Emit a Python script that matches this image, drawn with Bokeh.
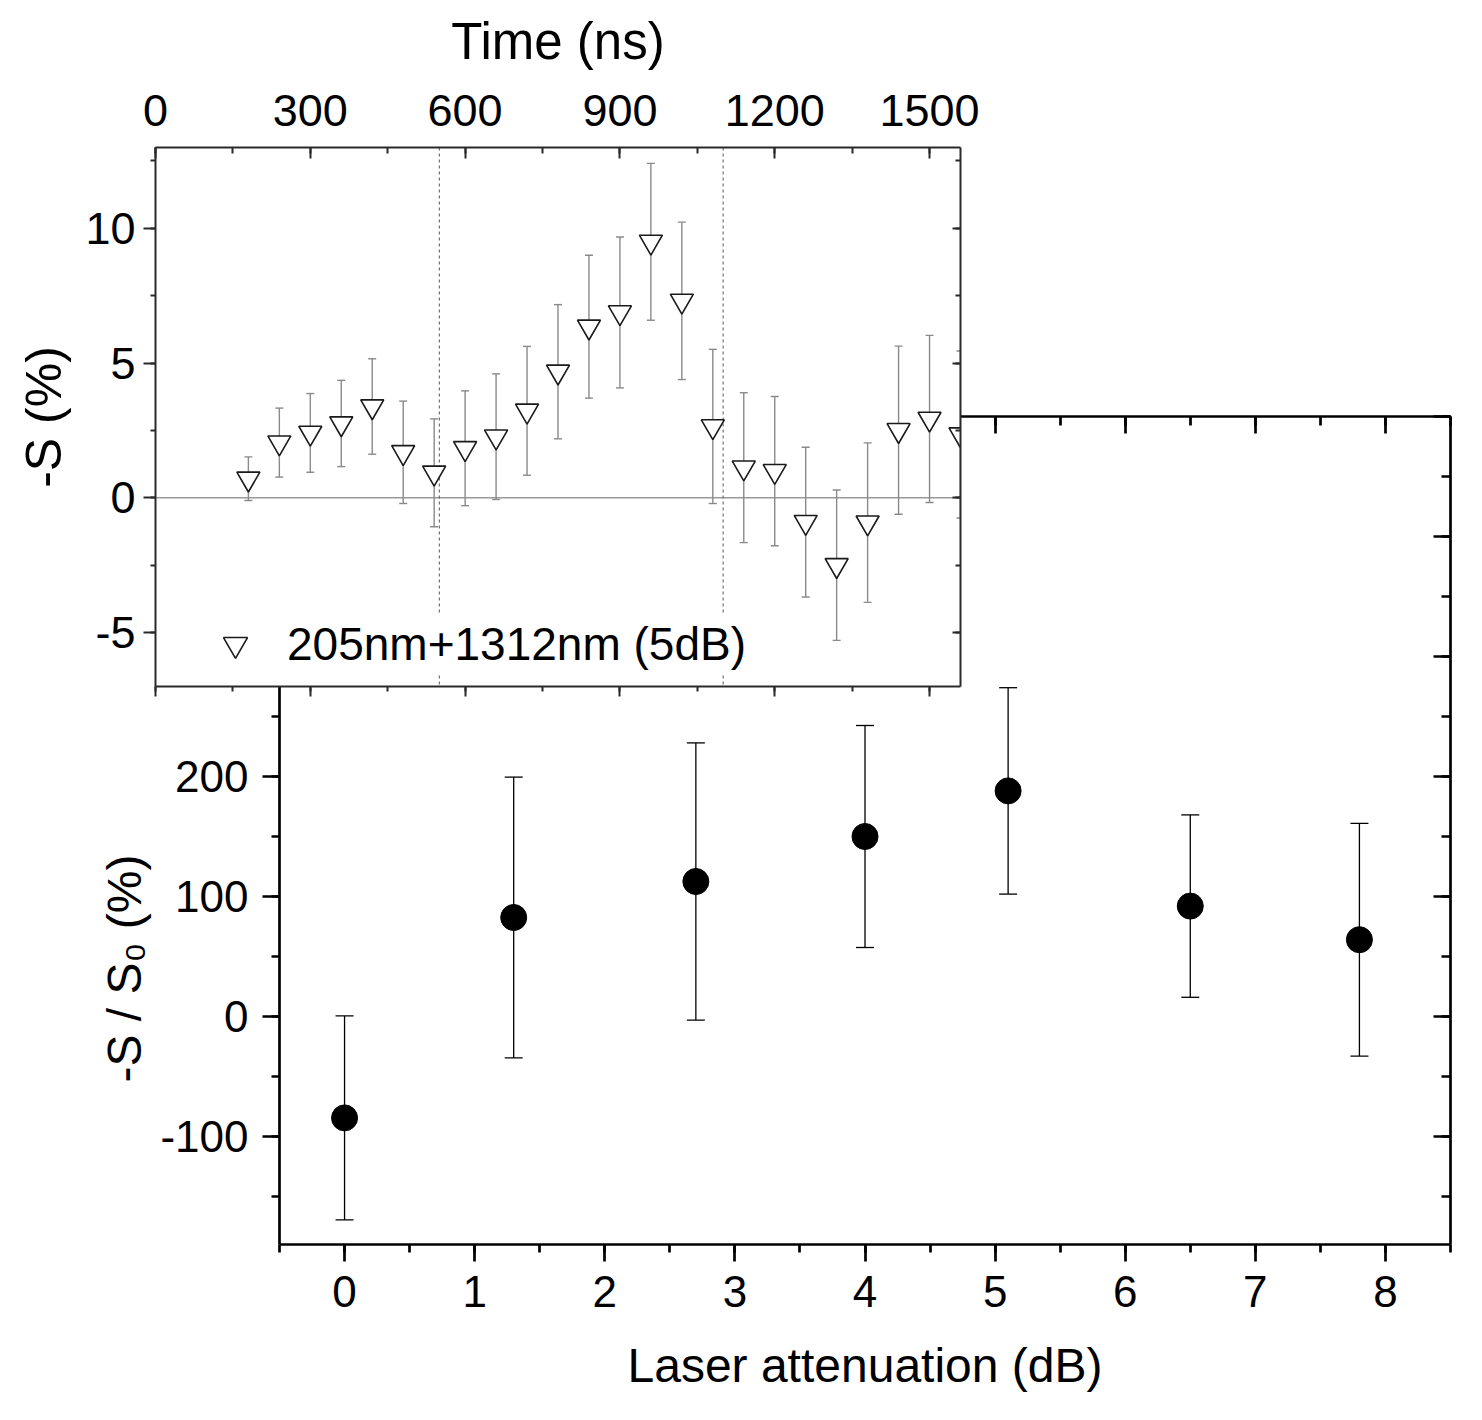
from bokeh.plotting import figure
from bokeh.models import (ColumnDataSource, Whisker, TeeHead, Span, Legend, Title,
                          LegendItem, LinearAxis, SingleIntervalTicker,
                          CustomJSTickFormatter, CustomLabelingPolicy)
from bokeh.embed import file_html
from bokeh.resources import INLINE

# ---------------- data ----------------
# main plot: signal ratio vs laser attenuation
atten_db = [0.0, 1.3, 2.7, 4.0, 5.1, 6.5, 7.8]
ratio_pct = [-84.5, 82.5, 112.5, 150.0, 188.0, 92.0, 64.0]
ratio_err = [85.0, 117.0, 115.5, 92.5, 86.0, 76.0, 97.0]

# inset: -S (%) vs time (ns), 205nm+1312nm (5dB)
time_ns = [180, 240, 300, 360, 420, 480, 540, 600, 660, 720, 780, 840,
           900, 960, 1020, 1080, 1140, 1200, 1260, 1320, 1380, 1440, 1500, 1560]
signal_pct = [0.71, 2.05, 2.41, 2.76, 3.39, 1.69, 0.93, 1.84, 2.27, 3.23, 4.68, 6.35,
              6.88, 9.50, 7.31, 2.65, 1.12, 0.99, -0.90, -2.50, -0.92, 2.51, 2.93, 2.35]
signal_err = [0.81, 1.28, 1.46, 1.60, 1.77, 1.90, 2.00, 2.13, 2.33, 2.39, 2.49, 2.65,
              2.80, 2.91, 2.92, 2.86, 2.78, 2.77, 2.78, 2.79, 2.96, 3.12, 3.10, 3.10]
window_ns = [550, 1100]
legend_label = "205nm+1312nm (5dB)"
main_ylabel = "-S / S\u2080 (%)"

FONT = "Liberation Sans"
HYPHEN_FMT = "return tick.toFixed(0)"


def no_labels():
    return CustomLabelingPolicy(code="return []")


def style_axis(ax, lw, color, major_len, minor_len, inward, font_size, show_labels=True):
    ax.axis_line_width = lw
    ax.axis_line_color = color
    ax.major_tick_line_width = lw
    ax.minor_tick_line_width = lw
    ax.major_tick_line_color = color
    ax.minor_tick_line_color = color
    if inward:
        ax.major_tick_in = major_len
        ax.major_tick_out = 0
        ax.minor_tick_in = minor_len
        ax.minor_tick_out = 0
    else:
        ax.major_tick_in = 0
        ax.major_tick_out = major_len
        ax.minor_tick_in = 0
        ax.minor_tick_out = minor_len
    ax.major_label_text_font = FONT
    ax.major_label_text_color = "black"
    ax.major_label_text_font_size = font_size
    if not show_labels:
        ax.major_label_policy = no_labels()
        ax.major_label_text_font_size = "10px"
        ax.major_label_standoff = 0
    ax.axis_label_text_font = FONT
    ax.axis_label_text_font_style = "normal"
    ax.axis_label_text_color = "black"


# ---------------- main figure ----------------
main = figure(width=1480, height=1416, x_range=(-0.5, 8.5), y_range=(-190, 500),
              output_backend="svg", toolbar_location=None,
              min_border_left=279, min_border_top=416, min_border_right=30,
              min_border_bottom=172, x_axis_location=None, y_axis_location=None)
main.xgrid.visible = False
main.ygrid.visible = False
main.outline_line_color = None
main.background_fill_color = "white"
main.border_fill_color = "white"

mx_t = lambda: SingleIntervalTicker(interval=1, num_minor_ticks=2)
my_t = lambda: SingleIntervalTicker(interval=100, num_minor_ticks=2)

m_bottom = LinearAxis(ticker=mx_t())
style_axis(m_bottom, 2.7, "black", 17, 8, False, "44px")
m_bottom.major_label_standoff = 14
m_bottom.axis_label = "Laser attenuation (dB)"
m_bottom.axis_label_text_font_size = "48px"
m_bottom.axis_label_standoff = 29
main.add_layout(m_bottom, "below")

m_left = LinearAxis(ticker=my_t(), formatter=CustomJSTickFormatter(code=HYPHEN_FMT))
style_axis(m_left, 2.7, "black", 17, 8, False, "44px")
m_left.major_label_standoff = 14
main.add_layout(m_left, "left")

m_top = LinearAxis(ticker=mx_t())
style_axis(m_top, 2.7, "black", 17, 9, True, "44px", show_labels=False)
main.add_layout(m_top, "above")

m_right = LinearAxis(ticker=my_t())
style_axis(m_right, 2.7, "black", 17, 9, True, "44px", show_labels=False)
main.add_layout(m_right, "right")

main.add_layout(Title(text=main_ylabel, align="left", offset=162, standoff=14,
                      text_font=FONT, text_font_size="48px",
                      text_font_style="normal", text_color="black"), "left")

msrc = ColumnDataSource(dict(
    x=atten_db, y=ratio_pct,
    upper=[v + e for v, e in zip(ratio_pct, ratio_err)],
    lower=[v - e for v, e in zip(ratio_pct, ratio_err)],
))
main.add_layout(Whisker(source=msrc, base="x", upper="upper", lower="lower",
                        dimension="height", line_color="black", line_width=1.3,
                        upper_head=TeeHead(size=18, line_color="black", line_width=1.3),
                        lower_head=TeeHead(size=18, line_color="black", line_width=1.3)))
main.scatter("x", "y", source=msrc, marker="circle", size=26,
             fill_color="black", line_color="black")

# ---------------- inset figure ----------------
inset = figure(width=990, height=716, x_range=(0, 1560), y_range=(-7, 13),
               output_backend="svg", toolbar_location=None,
               min_border_left=155, min_border_top=147, min_border_right=30,
               min_border_bottom=30, x_axis_location=None, y_axis_location=None,
               styles={"position": "absolute", "left": "0px", "top": "0px",
                       "z-index": "10"})
inset.xgrid.visible = False
inset.ygrid.visible = False
inset.outline_line_color = None
inset.background_fill_color = "white"
inset.border_fill_color = None

ix_t = lambda: SingleIntervalTicker(interval=300, num_minor_ticks=2)
iy_t = lambda: SingleIntervalTicker(interval=5, num_minor_ticks=2)
AX = "#2a2a2a"

i_top = LinearAxis(ticker=ix_t())
style_axis(i_top, 2, AX, 11, 6, True, "45px")
i_top.major_label_standoff = 22
i_top.axis_label = "Time (ns)"
i_top.axis_label_text_font_size = "51px"
i_top.axis_label_standoff = 22
inset.add_layout(i_top, "above")

i_left = LinearAxis(ticker=iy_t(), formatter=CustomJSTickFormatter(code=HYPHEN_FMT))
style_axis(i_left, 2, AX, 12, 5, False, "45px")
i_left.major_label_standoff = 8
i_left.axis_label = "-S (%)"
i_left.axis_label_text_font_size = "50px"
i_left.axis_label_standoff = 10
inset.add_layout(i_left, "left")

i_bottom = LinearAxis(ticker=ix_t())
style_axis(i_bottom, 2, AX, 10, 5, False, "45px", show_labels=False)
inset.add_layout(i_bottom, "below")

i_right = LinearAxis(ticker=iy_t())
style_axis(i_right, 2, AX, 8, 5, True, "45px", show_labels=False)
inset.add_layout(i_right, "right")

inset.add_layout(Span(location=0, dimension="width", line_color="#9a9a9a",
                      line_width=1.5, level="underlay"))
for t in window_ns:
    inset.add_layout(Span(location=t, dimension="height", line_color="#555555",
                          line_dash="3 3", line_width=1, level="underlay"))

isrc = ColumnDataSource(dict(
    x=time_ns, y=signal_pct,
    upper=[v + e for v, e in zip(signal_pct, signal_err)],
    lower=[v - e for v, e in zip(signal_pct, signal_err)],
))
inset.add_layout(Whisker(source=isrc, base="x", upper="upper", lower="lower",
                         dimension="height", line_color="#8a8a8a", line_width=1.4,
                         upper_head=TeeHead(size=8, line_color="#8a8a8a", line_width=1.4),
                         lower_head=TeeHead(size=8, line_color="#8a8a8a", line_width=1.4)))
tri = inset.scatter("x", "y", source=isrc, marker="inverted_triangle", size=23,
                    fill_color="white", line_color="#1a1a1a", line_width=1.6)

leg = Legend(items=[LegendItem(label=legend_label, renderers=[tri])],
             location=(50, 12), glyph_width=60, glyph_height=60,
             label_standoff=22, padding=0, margin=0, spacing=0,
             border_line_color=None, background_fill_color="white",
             background_fill_alpha=1.0, label_text_font=FONT,
             label_text_font_size="46px", label_text_color="black",
             label_height=60)
inset.add_layout(leg)

open("out.html", "w").write(file_html([main, inset], INLINE))
